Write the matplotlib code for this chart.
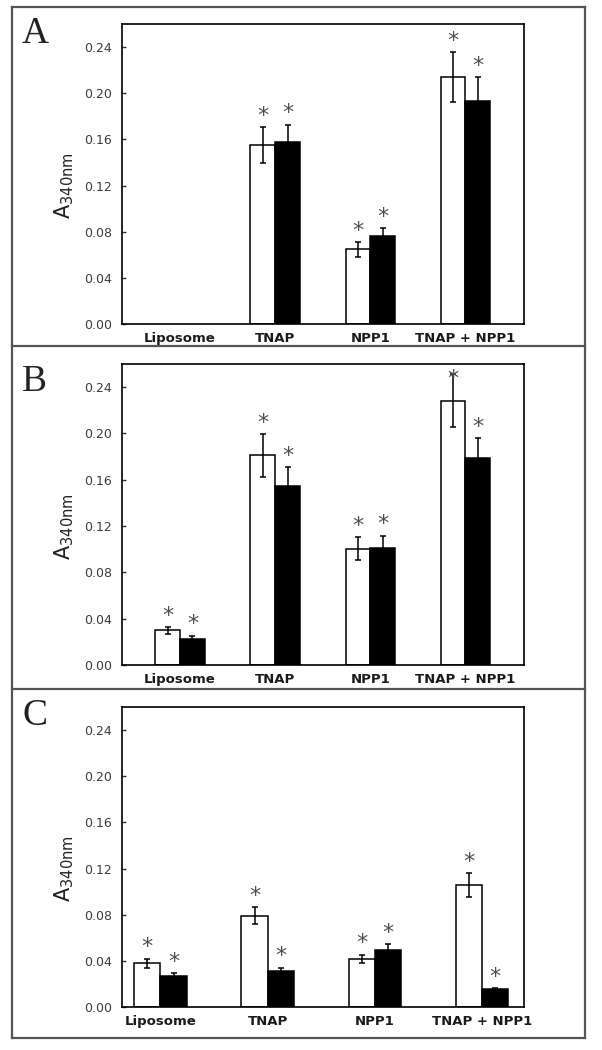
import numpy as np
import matplotlib
matplotlib.use("Agg")
import matplotlib.pyplot as plt
from matplotlib.lines import Line2D

# ---------------- data ----------------
categories = ["Liposome", "TNAP", "NPP1", "TNAP + NPP1"]
yticks = [0.00, 0.04, 0.08, 0.12, 0.16, 0.20, 0.24]
panel_letters = ["A", "B", "C"]

A_white = [np.nan, 0.155, 0.0646, 0.2137]
A_white_err = [np.nan, 0.0155, 0.0065, 0.0217]
A_black = [np.nan, 0.1578, 0.0761, 0.1932]
A_black_err = [np.nan, 0.015, 0.0073, 0.0205]

B_white = [0.0299, 0.181, 0.1003, 0.2284]
B_white_err = [0.003, 0.0184, 0.010, 0.023]
B_black = [0.0227, 0.1546, 0.1014, 0.1784]
B_black_err = [0.0026, 0.0164, 0.0104, 0.0173]

C_white = [0.0379, 0.0793, 0.042, 0.1055]
C_white_err = [0.004, 0.0075, 0.0035, 0.0105]
C_black = [0.027, 0.0316, 0.0494, 0.0152]
C_black_err = [0.0023, 0.0026, 0.005, 0.0012]

# ---------------- layout ----------------
W, H = 602, 1050
fig = plt.figure(figsize=(W / 100, H / 100), dpi=100)


def fx(px):
    return px / W


def fy(py):
    return 1 - py / H


panels = [
    dict(white=A_white, werr=A_white_err, black=A_black, berr=A_black_err,
         top=24, bottom=324, xlim=(-0.616, 3.61), bw=0.26, letter_base=43),
    dict(white=B_white, werr=B_white_err, black=B_black, berr=B_black_err,
         top=364, bottom=665, xlim=(-0.616, 3.61), bw=0.26, letter_base=391),
    dict(white=C_white, werr=C_white_err, black=C_black, berr=C_black_err,
         top=707, bottom=1007, xlim=(-0.363, 3.385), bw=0.245, letter_base=725),
]

ax_left, ax_right = 121.5, 523.5
x = np.arange(len(categories))
star_off = 0.0152
star_cap = 0.2525

for p, letter in zip(panels, panel_letters):
    ax = fig.add_axes([fx(ax_left), fy(p["bottom"]), fx(ax_right) - fx(ax_left),
                       fy(p["top"]) - fy(p["bottom"])])
    bw = p["bw"]
    w = np.array(p["white"], dtype=float)
    b = np.array(p["black"], dtype=float)
    we = np.array(p["werr"], dtype=float)
    be = np.array(p["berr"], dtype=float)
    xw = x - bw / 2
    xb = x + bw / 2
    ax.bar(xw, w, bw, color="white", edgecolor="black", linewidth=1.1, zorder=2)
    ax.bar(xb, b, bw, color="black", edgecolor="black", linewidth=1.1, zorder=2)
    ax.errorbar(xw, w, yerr=we, fmt="none", ecolor="black", elinewidth=1.1,
                capsize=2.3, capthick=1.1, zorder=3)
    ax.errorbar(xb, b, yerr=be, fmt="none", ecolor="black", elinewidth=1.1,
                capsize=2.3, capthick=1.1, zorder=1)
    for xs, vals, errs in ((xw, w, we), (xb, b, be)):
        for xi, v, e in zip(xs, vals, errs):
            if np.isnan(v):
                continue
            yc = min(v + e + star_off, star_cap)
            ax.annotate("*", (xi, yc), xytext=(0, -8.9), textcoords="offset points",
                        ha="center", va="baseline", fontsize=16, color="#505050",
                        annotation_clip=False, zorder=4)

    ax.set_xlim(*p["xlim"])
    ax.set_ylim(0, 0.26)
    ax.set_yticks(yticks)
    ax.set_yticklabels([f"{t:.2f}" for t in yticks], fontsize=9, color="#3c3c3c",
                       family="DejaVu Sans")
    ax.set_xticks(x)
    ax.set_xticklabels(categories, fontsize=9.5, fontweight="bold", color="#1a1a1a",
                       family="DejaVu Sans")
    ax.tick_params(axis="x", length=0, pad=6)
    ax.tick_params(axis="y", direction="in", length=3, width=1, pad=7, color="#333333")
    for s in ax.spines.values():
        s.set_linewidth(1.2)
        s.set_color("black")
    ax.set_ylabel(r"$\mathregular{A_{340nm}}$", fontsize=15, color="#222222")
    ax.yaxis.set_label_coords(-0.112, 0.46)

    fig.text(fx(22), fy(p["letter_base"]), letter, family="Liberation Serif",
             fontsize=27, ha="left", va="baseline", color="#222222")

# ---------------- outer frame ----------------
frame_kw = dict(color="#555555", linewidth=1.6, transform=fig.transFigure)
L, R, T, B = 11.5, 585, 6.5, 1038
for y in (T, 346, 689, B):
    fig.add_artist(Line2D([fx(L), fx(R)], [fy(y), fy(y)], **frame_kw))
for xx in (L, R):
    fig.add_artist(Line2D([fx(xx), fx(xx)], [fy(T), fy(B)], **frame_kw))

fig.savefig("out.png", dpi=100, facecolor="white")
